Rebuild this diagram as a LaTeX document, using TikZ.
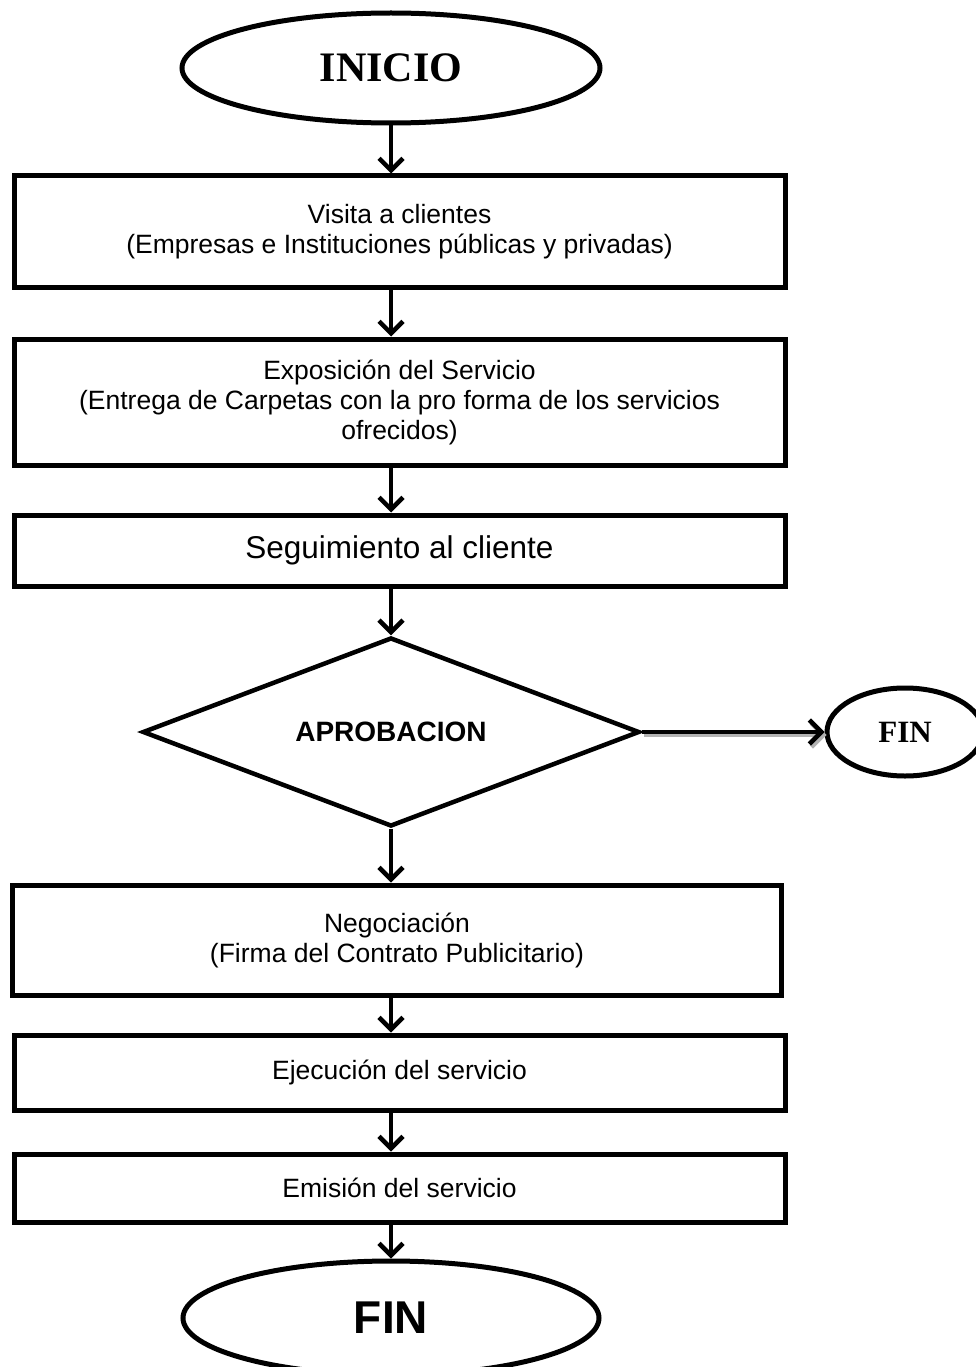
\documentclass[tikz,border=0pt]{standalone}
\usepackage{fontspec}
\setmainfont{Liberation Sans}
\newfontfamily\tnr{Liberation Serif}
\usetikzlibrary{shapes.geometric,arrows.meta}

\begin{document}
\begin{tikzpicture}[x=1pt, y=-1pt,
	caja/.style={draw, line width=5pt, rectangle, minimum width=771pt, inner sep=0pt, align=center, font=\fontsize{26.5}{30}\selectfont},
	elipse/.style={draw, line width=5pt, ellipse, inner sep=0pt},
	flecha/.style={line width=4.5pt, -{Straight Barb[length=12pt, width=24pt]}}]
\useasboundingbox (0,0) rectangle (976,1367);
\node[elipse, minimum width=418pt, minimum height=110pt, font=\tnr\bfseries\fontsize{42}{48}\selectfont] (inicio) at (391,68) {INICIO};
\node[caja, minimum height=111pt] (visita) at (399.5,231.5) {Visita a clientes\\(Empresas e Instituciones públicas y privadas)};
\node[caja, minimum height=126pt] (expo) at (399.5,402) {Exposición del Servicio\\(Entrega de Carpetas con la pro forma de los servicios\\ofrecidos)};
\node[caja, minimum height=71pt, font=\fontsize{31.5}{36}\selectfont] (seg) at (399.5,550.5) {Seguimiento al cliente};
\node[draw, diamond, aspect=2.6, line width=4.5pt, minimum width=497pt, minimum height=189pt, inner sep=0pt, font=\bfseries\fontsize{28}{32}\selectfont] (dec) at (391,732) {APROBACION};
\node[elipse, minimum width=156pt, minimum height=88pt, font=\tnr\bfseries\fontsize{31}{36}\selectfont] (fin2) at (905,732) {FIN};
\node[caja, minimum width=769pt, minimum height=110pt] (nego) at (397,940) {Negociación\\(Firma del Contrato Publicitario)};
\node[caja, minimum height=75pt] (ejec) at (399.5,1072.5) {Ejecución del servicio};
\node[caja, minimum height=68pt] (emis) at (399.5,1188) {Emisión del servicio};
\node[elipse, minimum width=416pt, minimum height=114pt, font=\bfseries\fontsize{46}{52}\selectfont] (fin) at (391,1318) {FIN};

\foreach \a/\b in {inicio/visita, visita/expo, expo/seg, seg/dec, dec/nego, nego/ejec, ejec/emis, emis/fin}{
	\draw[flecha] (dec |- \a.south) -- (dec |- \b.north);
}
% salida hacia FIN
\draw[flecha, gray!60] ([shift={(2pt,-3pt)}]dec.east) -- ([shift={(2pt,-3pt)}]fin2.west);
\draw[flecha] (dec.east) -- (fin2.west);
\end{tikzpicture}
\end{document}
